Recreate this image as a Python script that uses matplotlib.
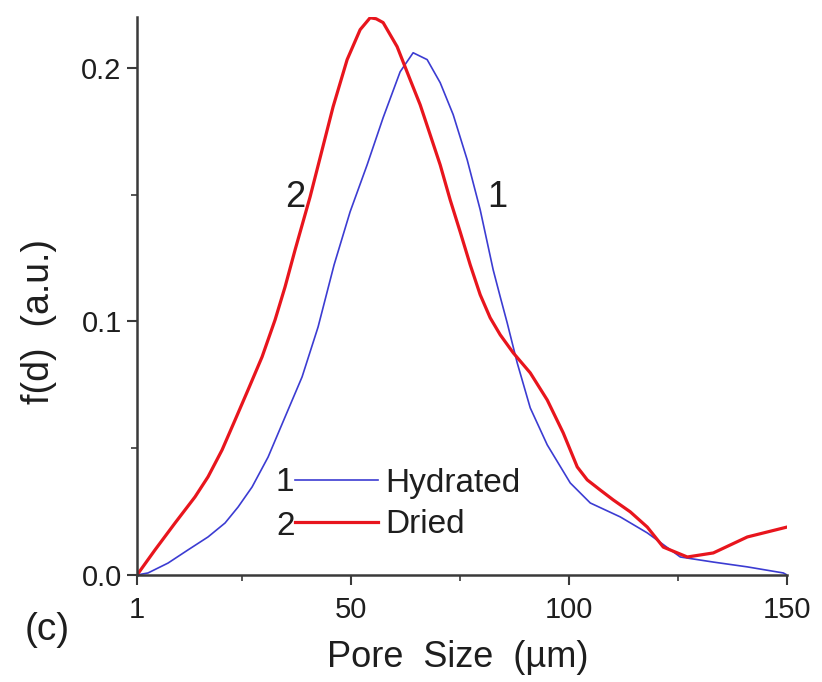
import numpy as np
import matplotlib
matplotlib.use('Agg')
import matplotlib.pyplot as plt
from matplotlib.ticker import MultipleLocator, FixedLocator

plt.rcParams['font.family'] = ['Liberation Sans', 'DejaVu Sans']

# pore size distribution, hydrated sample (curve 1)
hyd_x = [1.0, 3.52, 8.11, 12.70, 17.28, 21.18, 24.17, 27.38, 31.05, 34.94, 38.84,
         42.51, 46.18, 49.85, 53.75, 57.42, 61.32, 64.30, 67.51, 70.50, 73.48,
         76.69, 79.67, 82.65, 84.26, 85.86, 88.16, 91.14, 95.04, 100.31, 104.90,
         111.78, 117.97, 125.54, 133.11, 140.91, 149.17, 150.0]
hyd_y = [0.0, 0.0008, 0.0047, 0.0099, 0.0150, 0.0205, 0.0268, 0.0347, 0.0465,
         0.0623, 0.0781, 0.0978, 0.1223, 0.1432, 0.1617, 0.1803, 0.1984, 0.2059,
         0.2032, 0.1941, 0.1815, 0.1637, 0.1440, 0.1203, 0.1097, 0.0994, 0.0836,
         0.0659, 0.0513, 0.0363, 0.0284, 0.0229, 0.0166, 0.0071, 0.0051, 0.0032,
         0.0008, 0.0]

# pore size distribution, dried sample (curve 2)
dry_x = [1.0, 5.13, 9.72, 14.30, 17.28, 20.50, 23.48, 26.46, 29.67, 32.65, 34.94,
         37.24, 40.68, 42.97, 45.95, 49.17, 52.15, 54.44, 55.82, 57.42, 60.63,
         63.61, 65.91, 68.20, 70.50, 72.79, 75.08, 77.38, 79.67, 81.96, 84.26,
         87.24, 91.14, 95.04, 98.71, 101.92, 104.21, 107.19, 110.17, 114.07,
         117.97, 121.64, 127.15, 133.11, 140.91, 150.0]
dry_y = [0.0, 0.0099, 0.0205, 0.0308, 0.0387, 0.0493, 0.0611, 0.0730, 0.0860,
         0.1006, 0.1136, 0.1282, 0.1491, 0.1645, 0.1846, 0.2032, 0.2150, 0.2197,
         0.2193, 0.2178, 0.2083, 0.1953, 0.1854, 0.1736, 0.1617, 0.1479, 0.1353,
         0.1223, 0.1105, 0.1014, 0.0947, 0.0876, 0.0797, 0.0690, 0.0560, 0.0426,
         0.0375, 0.0335, 0.0296, 0.0249, 0.0189, 0.0110, 0.0071, 0.0087, 0.0150,
         0.0189]

series_names = ['Hydrated', 'Dried']
series_tags = ['1', '2']
x_ticks = [1, 50, 100, 150]
y_ticks = [0.0, 0.1, 0.2]

ink = '#1e1e1e'

fig = plt.figure(figsize=(8.22, 6.82), dpi=100)
ax = fig.add_axes([137 / 822, 107 / 682, 650 / 822, 558 / 682])

l1, = ax.plot(hyd_x, hyd_y, color='#3c3cd2', lw=1.2, label=series_names[0])
l2, = ax.plot(dry_x, dry_y, color='#e8151d', lw=2.3, label=series_names[1])

ax.set_xlim(1, 150)
ax.set_ylim(0, 0.22)
ax.xaxis.set_major_locator(FixedLocator(x_ticks))
ax.xaxis.set_minor_locator(FixedLocator([25, 75, 125]))
ax.yaxis.set_major_locator(FixedLocator(y_ticks))
ax.yaxis.set_minor_locator(MultipleLocator(0.05))
ax.set_xticklabels([str(t) for t in x_ticks])
ax.set_yticklabels(['%.1f' % t for t in y_ticks])

for side in ['top', 'right']:
    ax.spines[side].set_visible(False)
for side in ['left', 'bottom']:
    ax.spines[side].set_linewidth(1.8)
    ax.spines[side].set_color('#3a3a3a')

ax.tick_params(which='major', direction='out', length=7, width=1.5,
               color='#3a3a3a', labelsize=21, labelcolor=ink, pad=4)
ax.tick_params(which='minor', direction='out', length=4, width=1.2, color='#3a3a3a')
ax.tick_params(axis='x', which='major', pad=8)

ax.set_xlabel('Pore  Size  (µm)', fontsize=26, color=ink)
ax.set_ylabel('f(d)  (a.u.)', fontsize=27, color=ink)
ax.xaxis.label.set_va('center')
ax.yaxis.label.set_va('center')
ax.xaxis.set_label_coords(0.494, -0.147)
ax.yaxis.set_label_coords(-0.15, 0.455)

# curve numbers next to the lines
ax.text(37.2, 0.1487, series_tags[1], fontsize=26, ha='center', va='center', color=ink)
ax.text(83.6, 0.149, series_tags[0], fontsize=26, ha='center', va='center', color=ink)

leg = ax.legend(handles=[l1, l2], loc='center left', bbox_to_anchor=(0.243, 0.127),
                frameon=False, fontsize=24, handlelength=2.5, handletextpad=0.2,
                labelspacing=0.32, borderpad=0, borderaxespad=0)
for t in leg.get_texts():
    t.set_color(ink)
for tag, yy in zip(series_tags, [0.165, 0.087]):
    ax.text(0.228, yy, tag, transform=ax.transAxes, fontsize=24, ha='center',
            va='center', color=ink)

fig.text(47 / 822, 1 - 630 / 682, '(c)', fontsize=28, ha='center', va='center', color=ink)

fig.savefig('out.png', dpi=100)
